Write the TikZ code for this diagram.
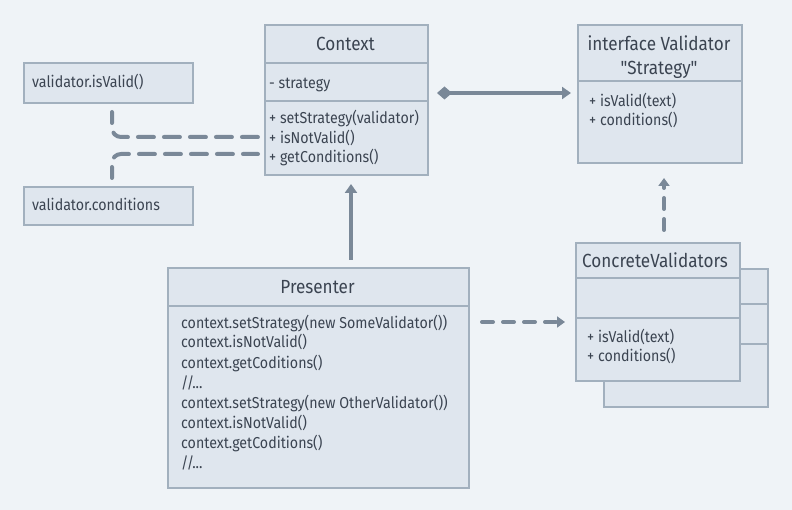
\documentclass[tikz,border=0pt]{standalone}
\usepackage{fontspec}
\setmainfont{Fira Sans}[FakeStretch=0.9]
\newfontfamily\plainqf{Fira Sans}[FakeStretch=0.9]
\usetikzlibrary{arrows.meta,calc}
\definecolor{bgc}{HTML}{EFF3F7}
\definecolor{boxc}{HTML}{DFE6EE}
\definecolor{bordc}{HTML}{A2B0BE}
\definecolor{linec}{HTML}{7A8898}
\definecolor{txtc}{HTML}{3B4451}
\tikzset{
  umlbox/.style={draw=bordc, fill=boxc, line width=2pt, inner sep=0pt, anchor=north west},
  divider/.style={draw=bordc, line width=2pt},
  lbl/.style={anchor=west, inner sep=0pt, text=txtc, font=\fontsize{15.8}{18}\selectfont, text height=12pt, text depth=4pt, yshift=-2pt},
  ttlfont/.style={font=\fontsize{19}{22}\selectfont, text height=15pt, text depth=3pt},
  ttl/.style={anchor=center, inner sep=0pt, text=txtc, ttlfont, yshift=-2pt},
  conn/.style={draw=linec, line width=4pt},
  dconn/.style={draw=linec, line width=4pt, line cap=round, dash pattern=on 11pt off 10pt},
  dconnl/.style={draw=linec, line width=4pt, line cap=round, dash pattern=on 16pt off 10pt, dash phase=5pt, rounded corners=9pt},
  tip/.style={-{Triangle[width=12pt,length=9pt]}}
}
\begin{document}
\begin{tikzpicture}[x=1pt,y=-1pt]
\useasboundingbox[fill=bgc] (0,0) rectangle (792,510);

% Context
\node[umlbox, minimum width=163pt, minimum height=150pt] (ctx) at (264,24) {};
\draw[divider] (264,63) -- (427,63);
\draw[divider] (264,101) -- (427,101);
\node[ttl] (ctxt) at (345.5,43) {Context};
\node[lbl] (ctxa) at (269,83) {- strategy};
\node[lbl] (ctxm1) at (269,118) {+ setStrategy(validator)};
\node[lbl] (ctxm2) at (269,138) {+ isNotValid()};
\node[lbl] (ctxm3) at (269,157) {+ getConditions()};

% Validator interface
\node[umlbox, minimum width=164pt, minimum height=138pt] (val) at (577,24) {};
\draw[divider] (577,81) -- (741,81);
\node[ttl] (valt1) at (659,43) {interface Validator};
\node[ttl] (valt2) at (659,67) {{\plainqf"}Strategy{\plainqf"}};
\node[lbl] (valm1) at (589,101) {+ isValid(text)};
\node[lbl] (valm2) at (589,120) {+ conditions()};

% small boxes
\node[umlbox, minimum width=169pt, minimum height=40pt] (iv) at (23,62) {};
\node[lbl] (ivt) at (32,82) {validator.isValid()};
\node[umlbox, minimum width=169pt, minimum height=38pt] (cd) at (23,186) {};
\node[lbl] (cdt) at (32,205) {validator.conditions};

% Presenter
\node[umlbox, minimum width=301pt, minimum height=220pt] (pres) at (167,267) {};
\draw[divider] (167,306) -- (468,306);
\node[ttl] (prest) at (317.5,286) {Presenter};
\node[lbl] (p1) at (181,323) {context.setStrategy(new SomeValidator())};
\node[lbl] (p2) at (181,342) {context.isNotValid()};
\node[lbl] (p3) at (181,362) {context.getCoditions()};
\node[lbl] (p4) at (181,382) {//...};
\node[lbl] (p5) at (181,402) {context.setStrategy(new OtherValidator())};
\node[lbl] (p6) at (181,422) {context.isNotValid()};
\node[lbl] (p7) at (181,442) {context.getCoditions()};
\node[lbl] (p8) at (181,462) {//...};

% Concrete validators (back)
\node[umlbox, minimum width=164pt, minimum height=138pt] (cvb) at (603,268) {};
\draw[divider] (603,304) -- (767,304);
\draw[divider] (603,344) -- (767,344);
% front
\node[umlbox, minimum width=164pt, minimum height=138pt] (cv) at (575,242) {};
\draw[divider] (575,278) -- (739,278);
\draw[divider] (575,318) -- (739,318);
\node[lbl, ttlfont] (cvt) at (582,260) {ConcreteValidators};
\node[lbl] (cvm1) at (587,336) {+ isValid(text)};
\node[lbl] (cvm2) at (587,356) {+ conditions()};

% helper coordinates
\coordinate (upx) at (351,0);
\coordinate (aggy) at (0,93);
\coordinate (ux) at (664,0);
\coordinate (ry) at (0,322);
\coordinate (ly1) at (0,137);
\coordinate (ly2) at (0,154);
\coordinate (lx) at (112,0);

% connectors
\draw[conn, tip, shorten <=7pt, shorten >=8pt] (pres.north -| upx) -- (ctx.south -| upx);
\draw[conn, {Diamond[width=13pt,length=15pt]}-{Triangle[width=12pt,length=9pt]}, shorten <=8pt, shorten >=6pt] (ctx.east |- aggy) -- (val.west |- aggy);
\draw[dconn, -{Triangle[width=11pt,length=8pt]}, shorten <=12pt, shorten >=14pt] (cv.north -| ux) -- (val.south -| ux);
\draw[dconn, -{Triangle[width=11pt,length=8pt]}, shorten <=12pt, shorten >=10pt] (pres.east |- ry) -- (cv.west |- ry);
\draw[dconnl, shorten <=8pt, shorten >=6pt] (iv.south -| lx) |- (ctx.west |- ly1);
\draw[dconnl, shorten <=8pt, shorten >=6pt] (cd.north -| lx) |- (ctx.west |- ly2);
\end{tikzpicture}
\end{document}
